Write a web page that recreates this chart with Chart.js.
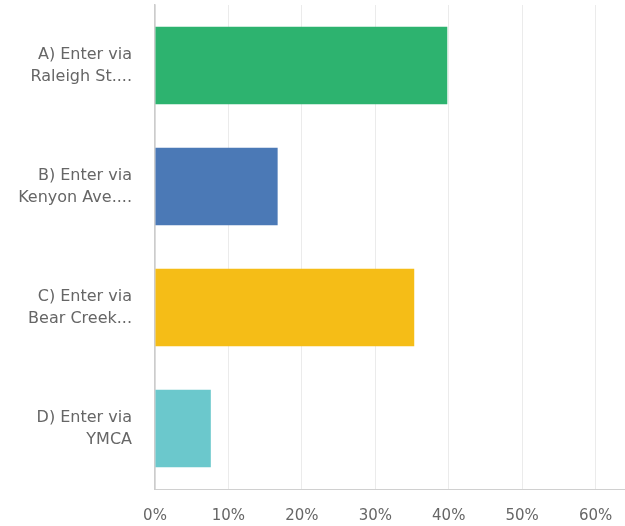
<!DOCTYPE html>
<html>
<head>
<meta charset="utf-8">
<script src="https://cdn.jsdelivr.net/npm/chart.js@4/dist/chart.umd.min.js"></script>
<style>
  html, body { margin: 0; padding: 0; background: #fff; }
  #wrap { width: 625px; height: 526px; position: relative; }
</style>
</head>
<body>
<div id="wrap"><canvas id="c"></canvas></div>
<script>
const categories = [
  ["A) Enter via", "Raleigh St...."],
  ["B) Enter via", "Kenyon Ave...."],
  ["C) Enter via", "Bear Creek..."],
  ["D) Enter via", "YMCA"]
];
const values = [39.8, 16.7, 35.3, 7.6];
const barColors = ["#2db36f", "#4b79b6", "#f5bd17", "#6bc8cc"];
const tickValues = [0, 10, 20, 30, 40, 50, 60];

new Chart(document.getElementById('c'), {
  type: 'bar',
  data: {
    labels: categories,
    datasets: [{
      data: values,
      backgroundColor: barColors,
      borderWidth: 0,
      categoryPercentage: 1,
      barPercentage: 0.64
    }]
  },
  options: {
    indexAxis: 'y',
    responsive: true,
    maintainAspectRatio: false,
    animation: false,
    layout: { padding: { top: 5, right: 0, bottom: 0, left: 0 } },
    plugins: { legend: { display: false }, tooltip: { enabled: false } },
    scales: {
      x: {
        min: 0,
        max: 64,
        afterBuildTicks: (axis) => { axis.ticks = tickValues.map(v => ({ value: v })); },
        afterFit: (axis) => {
          axis.height = 37;
          axis.paddingLeft = 0; axis.paddingRight = 0;
          axis.paddingTop = 0; axis.paddingBottom = 0;
        },
        ticks: {
          callback: (v) => v + '%',
          color: '#666',
          font: { family: 'DejaVu Sans', size: 15 },
          padding: 18,
          maxRotation: 0
        },
        grid: { color: '#ebebeb', drawTicks: false, lineWidth: 1 },
        border: { color: '#d0d0d0', width: 1 }
      },
      y: {
        afterFit: (axis) => {
          axis.width = 155;
          axis.paddingTop = 0; axis.paddingBottom = 0;
          axis.paddingLeft = 0; axis.paddingRight = 0;
        },
        ticks: {
          color: '#666',
          font: { family: 'DejaVu Sans', size: 16, lineHeight: 1.375 },
          padding: 23
        },
        grid: { display: false, drawTicks: false },
        border: { color: '#cccccc', width: 1.5 }
      }
    }
  }
});
</script>
</body>
</html>
